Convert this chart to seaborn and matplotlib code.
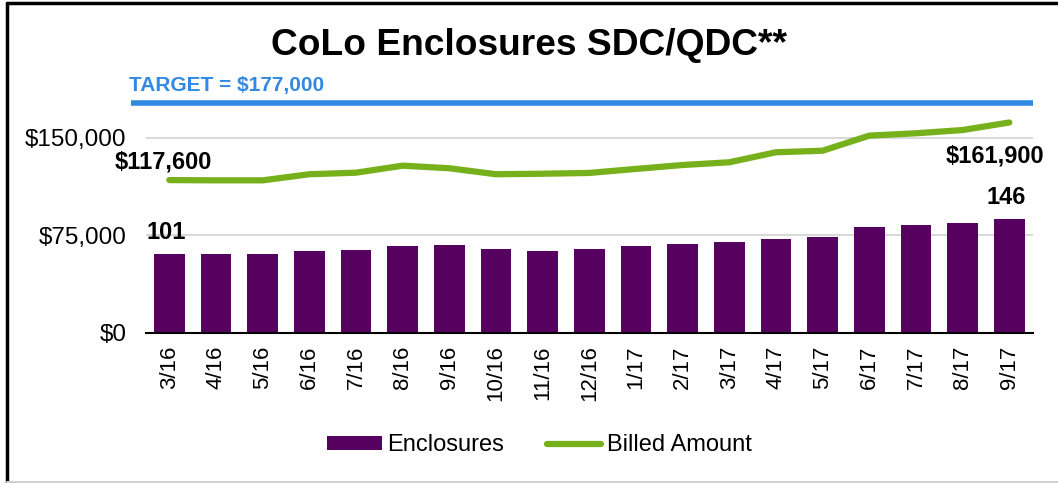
import matplotlib
matplotlib.use("Agg")
import matplotlib.pyplot as plt
from matplotlib.lines import Line2D
from matplotlib.patches import Patch
from matplotlib.ticker import FuncFormatter, FixedLocator
import seaborn as sns
import numpy as np
import pandas as pd

months = ['3/16', '4/16', '5/16', '6/16', '7/16', '8/16', '9/16', '10/16', '11/16', '12/16',
          '1/17', '2/17', '3/17', '4/17', '5/17', '6/17', '7/17', '8/17', '9/17']
enclosures = [101, 101, 101, 105, 107, 112, 113, 108, 105, 108,
              112, 114, 116, 121, 123, 136, 138, 141, 146]
billed = [117600, 117400, 117400, 122100, 123300, 128700, 126700, 122100, 122500, 123100,
          126200, 129200, 131300, 139000, 140200, 151800, 153600, 156100, 161900]
target = 177000

purple = '#56005F'
green = '#76B01B'
blue = '#3189E3'

sns.set_style('white')
plt.rcParams['font.family'] = ['Liberation Sans', 'DejaVu Sans']
plt.rcParams['text.color'] = 'black'
plt.rcParams['xtick.color'] = 'black'
plt.rcParams['ytick.color'] = 'black'
plt.rcParams['axes.labelcolor'] = 'black'

df = pd.DataFrame({'month': months, 'enclosures': enclosures, 'billed': billed})
x = np.arange(len(months))

fig = plt.figure(figsize=(10.58, 4.83), dpi=100)
ax = fig.add_axes([0.138, 0.3106, 0.838, 0.4845])
ax2 = ax.twinx()

# primary scale 0-180000, secondary (enclosures) 0-300, same height
ymax, y2max = 180000, 300

# bars on hidden secondary axis
sns.barplot(ax=ax2, data=df, x='month', y='enclosures', color=purple, width=0.66,
            saturation=1, edgecolor='none', zorder=2)
ax2.set_ylim(0, y2max)
ax2.set_yticks([75000 * y2max / ymax, 150000 * y2max / ymax])
ax2.tick_params(axis='y', length=0, labelright=False)
ax2.grid(axis='y', color='#D9D9D9', linewidth=1.5, zorder=0)
ax2.grid(axis='x', visible=False)
ax2.set_axisbelow(True)
ax2.set_ylabel('')
ax2.set_xlabel('')
for s in ax2.spines.values():
    s.set_visible(False)

# billed line on primary axis
ax.set_zorder(ax2.get_zorder() + 1)
ax.patch.set_visible(False)
sns.lineplot(ax=ax, x=x, y=df['billed'], color=green, linewidth=4.5,
             solid_capstyle='round')
ax.plot([-0.82, 18.5], [target, target], color=blue, linewidth=4, clip_on=False,
        solid_capstyle='butt')

ax.set_xlim(-0.5, len(months) - 0.5)
ax2.set_xlim(-0.5, len(months) - 0.5)
ax.set_ylim(0, ymax)
ax.set_yticks([0, 75000, 150000])
ax.yaxis.set_major_formatter(FuncFormatter(lambda v, p: '${:,.0f}'.format(v)))
ax.grid(False)
ax.tick_params(axis='y', length=0, labelsize=17.5, pad=14)

# ticks at category boundaries, labels at centres
ax.xaxis.set_major_locator(FixedLocator(np.arange(-0.5, len(months), 1)))
ax.xaxis.set_minor_locator(FixedLocator(x))
ax.set_xticklabels([''] * len(np.arange(-0.5, len(months), 1)))
ax.set_xticklabels(months, minor=True, rotation=90, fontsize=16)
ax.tick_params(axis='x', which='major', length=6, width=1.2, direction='out', color='black')
ax.tick_params(axis='x', which='minor', length=0, pad=9)
ax2.tick_params(axis='x', length=0, labelbottom=False)
ax2.set_xticks([])
ax.set_xlabel('')
ax.set_ylabel('')

for s in ['top', 'right', 'left']:
    ax.spines[s].set_visible(False)
ax.spines['bottom'].set_color('black')
ax.spines['bottom'].set_linewidth(1.5)

# data labels
ax.annotate('${:,.0f}'.format(billed[0]), (x[0], billed[0]), xytext=(-4, 4.5),
            textcoords='offset points', ha='center', va='bottom', fontsize=17, fontweight='bold')
ax.annotate('${:,.0f}'.format(billed[-1]), (x[-1], billed[-1]), xytext=(-10, -16),
            textcoords='offset points', ha='center', va='top', fontsize=17, fontweight='bold')
ax2.annotate(str(enclosures[0]), (x[0], enclosures[0]), xytext=(-2, 7),
             textcoords='offset points', ha='center', va='bottom', fontsize=17, fontweight='bold')
ax2.annotate(str(enclosures[-1]), (x[-1], enclosures[-1]), xytext=(-2, 7),
             textcoords='offset points', ha='center', va='bottom', fontsize=17, fontweight='bold')

# titles
fig.text(0.5, 0.905, 'CoLo Enclosures SDC/QDC**', ha='center', va='center',
         fontsize=26.7, fontweight='bold')
fig.text(0.122, 0.822, 'TARGET = $177,000', ha='left', va='center', color=blue,
         fontsize=15, fontweight='bold')

# legend
handles = [Patch(facecolor=purple, edgecolor='none', label='Enclosures'),
           Line2D([0], [0], color=green, linewidth=4.5, solid_capstyle='round',
                  label='Billed Amount')]
fig.legend(handles=handles, loc='center', bbox_to_anchor=(0.51, 0.078), ncol=2,
           frameon=False, fontsize=17, handlelength=2.3, handleheight=0.55,
           handletextpad=0.25, columnspacing=1.8)

# frame
fig.add_artist(Line2D([0.0066, 0.0066], [0.0, 0.994], transform=fig.transFigure,
                      color='black', linewidth=2.5))
fig.add_artist(Line2D([0.0066, 1.0], [0.994, 0.994], transform=fig.transFigure,
                      color='black', linewidth=2.5))
fig.add_artist(Line2D([0.0066, 1.0], [0.003, 0.003], transform=fig.transFigure,
                      color='#D0D0D0', linewidth=1.5))

fig.savefig('out.png', dpi=100, facecolor='white')
